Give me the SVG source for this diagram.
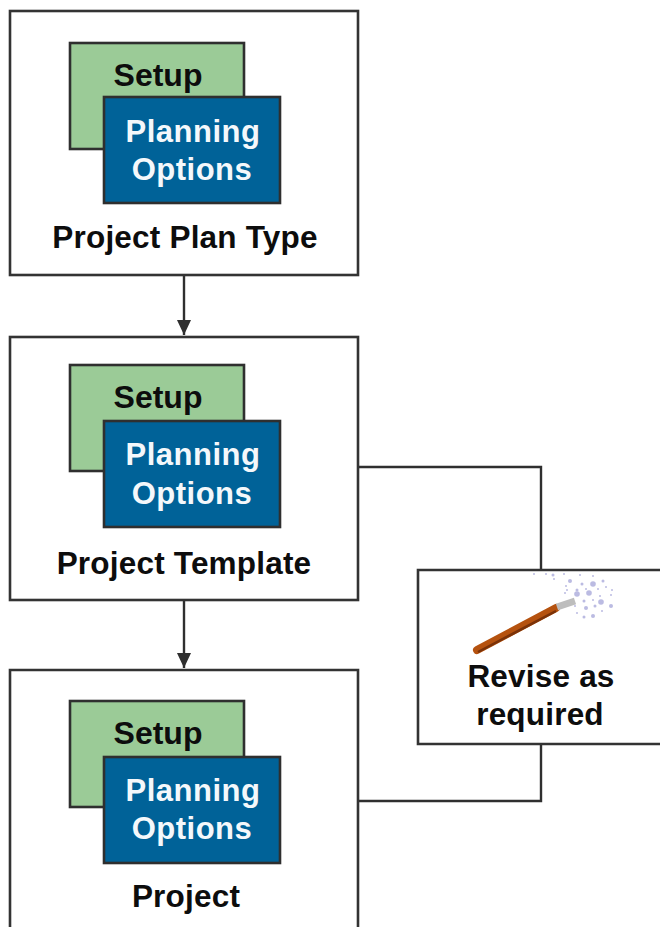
<svg xmlns="http://www.w3.org/2000/svg" width="660" height="927" viewBox="0 0 660 927">
<style>
text{font-family:"Liberation Sans",Arial,sans-serif;font-weight:700;text-anchor:middle;fill:#0d0d0d}
.box{fill:#fff;stroke:#333;stroke-width:2.6}
.g{fill:#9bcb97;stroke:#2f2f2f;stroke-width:2.6}
.b{fill:#006298;stroke:#2f2f2f;stroke-width:2.6}
.t{font-size:32px}
.w{font-size:31px;fill:#f4f8fb;letter-spacing:.5px}
.l{font-size:31.500px;letter-spacing:.2px}
.c{fill:none;stroke:#2f2f2f;stroke-width:2.400}
.s{fill:#8f8fd0}
</style>
<defs><marker id="a" markerUnits="userSpaceOnUse" markerWidth="16" markerHeight="14" refX="15" refY="7" orient="auto"><path d="M0 0L15 7L0 14Z" fill="#2f2f2f"/></marker></defs>
<rect width="660" height="927" fill="#fff"/>
<g id="connectors">
<path class="c" d="M184 275V335" marker-end="url(#a)"/>
<path class="c" d="M184 600V668" marker-end="url(#a)"/>
<path class="c" d="M358 467H541V570"/>
<path class="c" d="M541 744V801H358"/>
</g>
<g id="plan-type">
<rect class="box" x="10" y="11" width="348" height="264"/>
<rect class="g" x="70" y="43" width="174" height="106"/>
<text class="t" x="158" y="86">Setup</text>
<rect class="b" x="104" y="97" width="176" height="106"/>
<text class="w" x="193" y="142">Planning</text>
<text class="w" x="192" y="180">Options</text>
<text class="l" x="185" y="248">Project Plan Type</text>
</g>
<g id="template">
<rect class="box" x="10" y="337" width="348" height="263"/>
<rect class="g" x="70" y="365" width="174" height="106"/>
<text class="t" x="158" y="408">Setup</text>
<rect class="b" x="104" y="421" width="176" height="106"/>
<text class="w" x="193" y="465">Planning</text>
<text class="w" x="192" y="504">Options</text>
<text class="l" x="184" y="574">Project Template</text>
</g>
<g id="project">
<path class="box" d="M10 940V670H358V940"/>
<rect class="g" x="70" y="701" width="174" height="106"/>
<text class="t" x="158" y="744">Setup</text>
<rect class="b" x="104" y="757" width="176" height="106"/>
<text class="w" x="193" y="801">Planning</text>
<text class="w" x="192" y="839">Options</text>
<text class="l" x="186" y="907">Project</text>
</g>
<g id="revise">
<path class="box" d="M672 570H418V744H672"/>
<path d="M477 650L556 608" fill="none" stroke="#b5520f" stroke-width="8" stroke-linecap="round"/>
<path d="M478 652L556 611" fill="none" stroke="#7a3208" stroke-width="2.500"/>
<path d="M557 607L575 601" fill="none" stroke="#bdbdbd" stroke-width="7"/>
<g class="s" opacity=".6">
<circle cx="534" cy="574" r="1"/><circle cx="546" cy="574" r="1"/><circle cx="553" cy="575" r="1.500"/><circle cx="564" cy="574" r="1"/><circle cx="580" cy="575" r="1"/><circle cx="593" cy="576" r="1"/>
<circle cx="554" cy="579" r="1"/><circle cx="570" cy="581" r="2"/><circle cx="582" cy="584" r="1.500"/><circle cx="593" cy="584" r="2.800"/><circle cx="603" cy="581" r="1.500"/>
<circle cx="566" cy="586" r="1"/><circle cx="577" cy="590" r="1.500"/><circle cx="565" cy="593" r="1"/><circle cx="586" cy="589" r="1"/><circle cx="606" cy="587" r="1"/><circle cx="598" cy="589" r="1"/>
<circle cx="577" cy="594" r="2.800"/><circle cx="589" cy="593" r="2.800"/><circle cx="600" cy="596" r="1"/><circle cx="612" cy="590" r="1"/><circle cx="611" cy="595" r="1"/>
<circle cx="584" cy="601" r="1.500"/><circle cx="593" cy="600" r="1"/><circle cx="601" cy="602" r="2.800"/><circle cx="611" cy="606" r="2"/><circle cx="586" cy="608" r="2"/>
<circle cx="575" cy="606" r="1"/><circle cx="595" cy="606" r="1.500"/><circle cx="602" cy="611" r="1"/><circle cx="577" cy="613" r="1"/><circle cx="584" cy="617" r="1.500"/><circle cx="593" cy="616" r="2"/><circle cx="567" cy="590" r="1"/>
</g>
<text class="l" x="541" y="687">Revise as</text>
<text class="l" x="540" y="725">required</text>
</g>
</svg>
